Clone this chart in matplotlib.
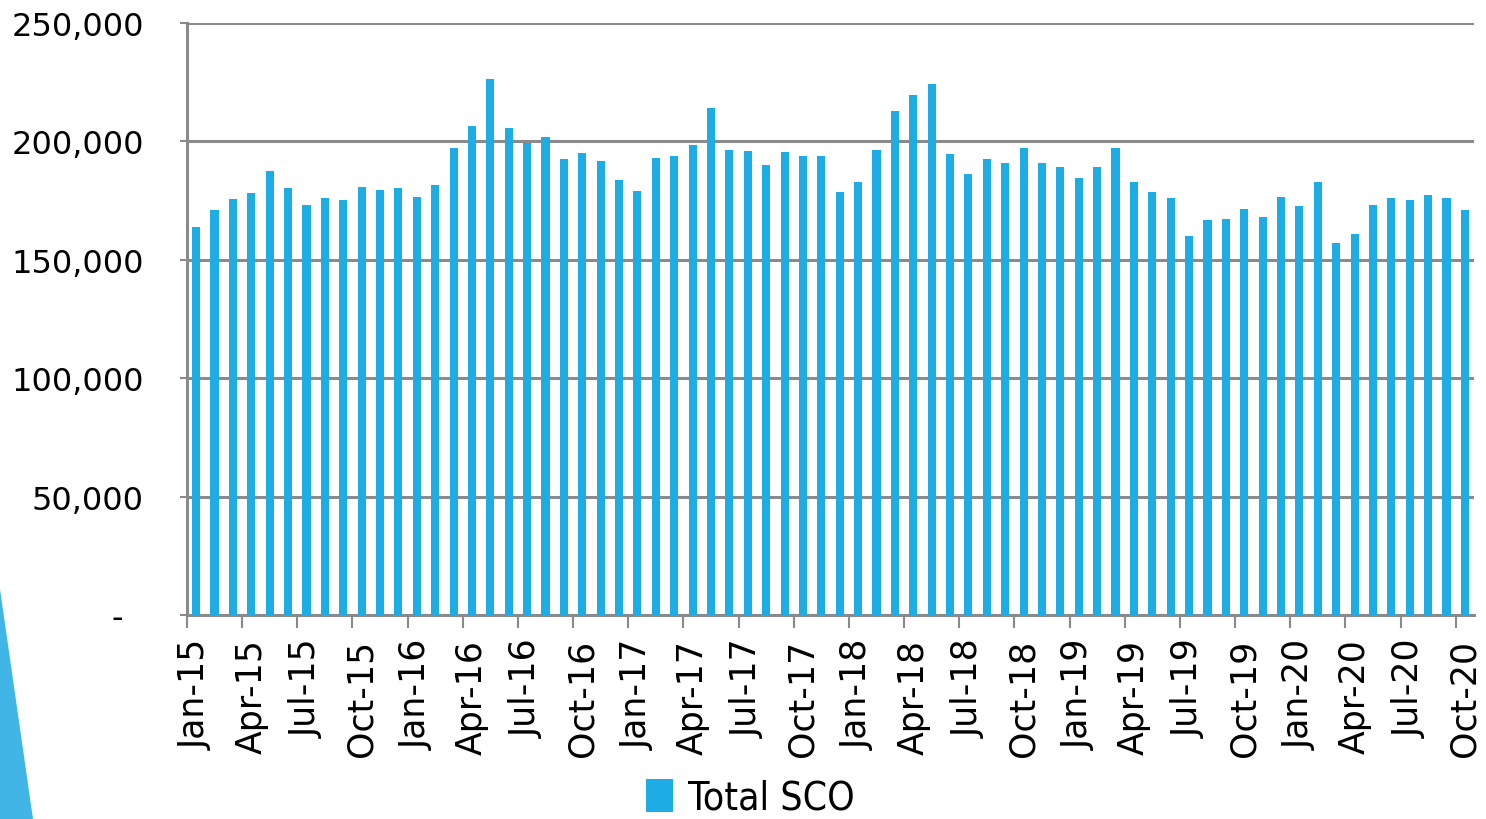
import matplotlib
matplotlib.use('Agg')
import matplotlib.pyplot as plt
from matplotlib.patches import Polygon
import numpy as np

# Monthly Total SCO, Jan-15 .. Oct-20
months = ['Jan', 'Feb', 'Mar', 'Apr', 'May', 'Jun',
          'Jul', 'Aug', 'Sep', 'Oct', 'Nov', 'Dec']
years = ['15', '16', '17', '18', '19', '20']
labels = [f'{m}-{y}' for y in years for m in months][:70]

total_sco = [
    164000, 171100, 175800, 178300, 187600, 180400, 173200, 176200, 175400, 180900, 179600, 180400,
    176600, 181700, 197300, 206600, 226500, 205800, 199500, 202000, 192700, 195200, 191800, 183800,
    179200, 193100, 193900, 198600, 214200, 196500, 196100, 190200, 195700, 193900, 193900, 178700,
    183000, 196500, 213000, 219700, 224400, 194800, 186300, 192700, 191000, 197300, 191000, 189300,
    184700, 189300, 197300, 183000, 178700, 176200, 160200, 166900, 167300, 171600, 168200, 176600,
    172800, 183000, 157200, 161000, 173200, 176200, 175400, 177500, 176200, 171100,
]

bar_color = '#1DACE3'
grid_color = '#8A8A8A'

fig = plt.figure(figsize=(14.86, 8.20), dpi=100)
ax = fig.add_axes([0.1258, 0.2488, 0.8662, 0.7219])

x = np.arange(len(total_sco))
ax.bar(x, total_sco, width=0.44, color=bar_color, label='Total SCO', zorder=3)

ax.set_xlim(-0.5, len(total_sco) - 0.5)
ax.set_ylim(0, 250000)

# y axis
yt = np.arange(0, 250001, 50000)
ax.set_yticks(yt)
ax.set_yticklabels(['-  '] + [f'{v:,}' for v in yt[1:]], fontsize=23)
ax.yaxis.grid(True, color=grid_color, linewidth=2.2, zorder=1)
ax.tick_params(axis='y', length=5, width=1.5, color=grid_color, pad=26)

# x axis: labels every 3 months, tick marks on category boundaries
ax.set_xticks(x[::3])
ax.set_xticklabels(labels[::3], rotation=90, fontsize=25)
ax.tick_params(axis='x', which='major', length=0, pad=17)
ax.set_xticks(x[::3] - 0.5, minor=True)
ax.tick_params(axis='x', which='minor', length=9, width=1.5, color=grid_color, direction='out')

for side in ['top', 'right']:
    ax.spines[side].set_visible(False)
for side in ['left', 'bottom']:
    ax.spines[side].set_color(grid_color)
    ax.spines[side].set_linewidth(2.2)

fig.legend(loc='lower center', bbox_to_anchor=(0.505, -0.04), frameon=False,
           handlelength=0.7, handleheight=0.9, handletextpad=0.4,
           prop={'family': 'DejaVu Sans', 'stretch': 'condensed', 'size': 28})

# slide decoration in the lower left corner
fig.patches.append(Polygon([[0, 1 - 590 / 820], [0, 0], [33 / 1486, 0]],
                           closed=True, transform=fig.transFigure,
                           facecolor='#41B6E6', edgecolor='none'))

fig.savefig('out.png', dpi=100)
